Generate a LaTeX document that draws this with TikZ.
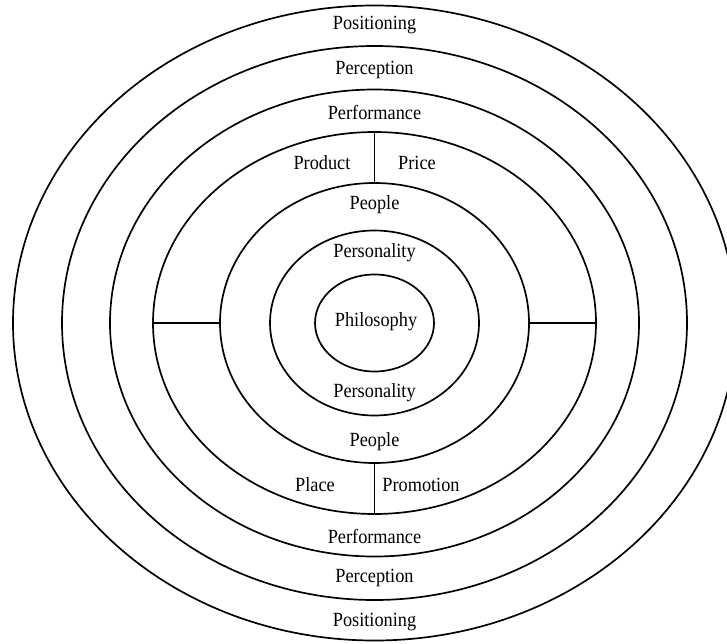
\documentclass[tikz,border=0pt]{standalone}
\usepackage{fontspec}
\setmainfont{Liberation Serif}
\usetikzlibrary{shapes.geometric}

\def\px{0.025cm}

\begin{document}
\begin{tikzpicture}[x=\px, y=-\px, line width=1.2pt]
    \tikzstyle{ring}=[draw, ellipse, inner sep=0pt, outer sep=0pt]
    \tikzstyle{annot}=[font=\fontsize{13}{15}\selectfont, inner sep=1pt, yscale=1.1]
    \tikzstyle{divider}=[line width=1.2pt]
    \tikzstyle{bar}=[line width=1.8pt]

    \useasboundingbox (0,0) rectangle (727,643);
    \clip (0,0) rectangle (727,643);

    % Draw the rings, from the outside in
    \foreach \name / \rx / \ry in {Pos/361.5/317.5, Per/312.5/277, Perf/264.5/233.5,
                                   Mix/221.5/191, Peo/154.5/140, Pers/104.5/92.5, Phil/59.5/48.5}
        \node[ring, minimum width=2*\rx*\px, minimum height=2*\ry*\px] (R-\name) at (374.5,323) {};

    % Split the ring of the four Ps
    \draw[divider] (R-Mix.north) -- (R-Peo.north);
    \draw[divider] (R-Peo.south) -- (R-Mix.south);
    \draw[bar] (R-Mix.west) -- (R-Peo.west);
    \draw[bar] (R-Peo.east) -- (R-Mix.east);

    % Ring names, top and bottom
    \foreach \name / \y / \txt in {pos-t/25/Positioning, per-t/70/Perception, perf-t/113/Performance,
                                   peo-t/205/People, pers-t/253/Personality,
                                   pers-b/393/Personality, peo-b/442/People,
                                   perf-b/537/Performance, per-b/578/Perception, pos-b/622/Positioning}
        \node[annot] (\name) at (374.5,\y) {\txt};

    \node[annot] (phil) at (376,322) {Philosophy};

    % The four Ps
    \node[annot] (prod) at (322,163) {Product};
    \node[annot] (price) at (417,163) {Price};
    \node[annot] (place) at (315,485) {Place};
    \node[annot] (promo) at (421,485) {Promotion};
\end{tikzpicture}
\end{document}
